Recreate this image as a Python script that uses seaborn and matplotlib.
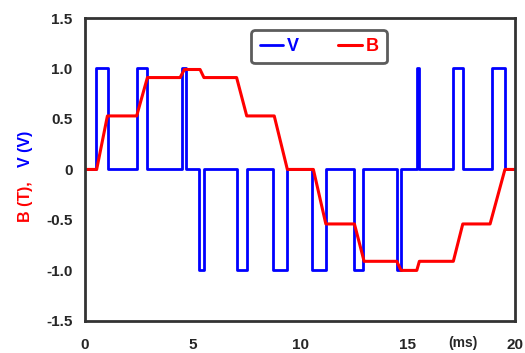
import pandas as pd
import seaborn as sns
import matplotlib.pyplot as plt

sns.set_style("white")
plt.rcParams['font.family'] = ['Liberation Sans', 'DejaVu Sans']
plt.rcParams['font.weight'] = 'bold'

# voltage pulses (step, value holds until next time)
v_time = [0, 0.5, 1.05, 2.4, 2.9, 4.5, 4.68, 5.3, 5.52, 7.05, 7.52, 8.76, 9.38,
          10.57, 11.2, 12.5, 12.95, 14.5, 14.7, 15.43, 15.55, 17.13, 17.6, 18.91, 19.53, 20]
v_volt = [0, 1, 0, 1, 0, 1, 0, -1, 0, -1, 0, -1, 0,
          -1, 0, -1, 0, -1, 0, 1, 0, 1, 0, 1, 0, 0]

# flux density (piecewise linear)
b_time = [0, 0.54, 1.04, 2.4, 2.9, 4.42, 4.62, 5.35, 5.53, 7.05, 7.52, 8.8, 9.41,
          10.62, 11.2, 12.53, 12.98, 14.5, 14.7, 15.43, 15.55, 17.13, 17.57, 18.84, 19.53, 20]
b_tesla = [0, 0, 0.53, 0.53, 0.91, 0.91, 0.99, 0.99, 0.91, 0.91, 0.53, 0.53, 0,
           0, -0.54, -0.54, -0.91, -0.91, -1.0, -1.0, -0.91, -0.91, -0.54, -0.54, 0, 0]

yticks = [1.5, 1.0, 0.5, 0, -0.5, -1.0, -1.5]
ytick_labels = ['1.5', '1.0', '0.5', '0', '-0.5', '-1.0', '-1.5']
xticks = [0, 5, 10, 15, 20]

dv = pd.DataFrame({'t': v_time, 'V': v_volt})
db = pd.DataFrame({'t': b_time, 'B': b_tesla})

fig = plt.figure(figsize=(5.25, 3.53), dpi=100)
ax = fig.add_axes([0.162, 0.091, 0.819, 0.858])

sns.lineplot(data=dv, x='t', y='V', ax=ax, color='#0000ff', lw=2,
             drawstyle='steps-post', estimator=None, sort=False, label='V')
sns.lineplot(data=db, x='t', y='B', ax=ax, color='#ff0000', lw=2.2,
             estimator=None, sort=False, label='B')

ax.set_xlim(0, 20)
ax.set_ylim(-1.5, 1.5)
ax.set_xticks(xticks)
ax.set_xticklabels([str(x) for x in xticks], fontsize=11, fontweight='bold')
ax.set_yticks(yticks)
ax.set_yticklabels(ytick_labels, fontsize=11, fontweight='bold')
ax.tick_params(axis='both', length=3, width=1, color='#333333', pad=6)
ax.tick_params(axis='x', pad=9)
ax.set_xlabel('')
ax.set_ylabel('')
for s in ax.spines.values():
    s.set_color('#333333')
    s.set_linewidth(2)

ax.text(17.6, -0.073, '(ms)', transform=ax.get_xaxis_transform(),
        ha='center', va='center', fontsize=10, fontweight='bold')

fig.text(0.048, 0.371, 'B (T),', rotation=90, ha='center', va='bottom',
         color='#ff0000', fontsize=11.5, fontweight='bold')
fig.text(0.048, 0.527, 'V (V)', rotation=90, ha='center', va='bottom',
         color='#0000ff', fontsize=11.5, fontweight='bold')

leg = ax.legend(loc='upper center', bbox_to_anchor=(0.544, 0.99), ncol=2,
                handlelength=1.3, handletextpad=0.2, columnspacing=2.2,
                labelcolor='linecolor', prop={'size': 13, 'weight': 'bold'},
                frameon=True, fancybox=True, borderpad=0.45)
leg.get_frame().set_edgecolor('#333333')
leg.get_frame().set_linewidth(2)

fig.savefig('out.png', dpi=100)
